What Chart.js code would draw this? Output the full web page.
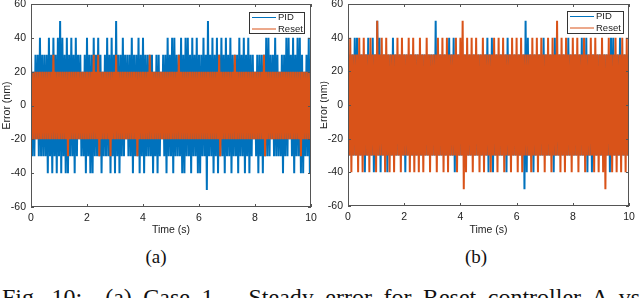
<!DOCTYPE html>
<html>
<head>
<meta charset="utf-8">
<script src="https://cdn.jsdelivr.net/npm/chart.js@4/dist/chart.umd.min.js"></script>
<style>
  body { margin: 0; background: #fff; width: 640px; height: 298px; overflow: hidden; position: relative; }
  canvas { position: absolute; top: 0; }
  #graficoA { left: 0; }
  #graficoB { left: 320px; }
  .sub { position: absolute; top: 246px; width: 60px; text-align: center; font: 19px "Liberation Serif", "Times New Roman", serif; color: #111; }
  .fig { position: absolute; left: 2px; top: 284px; white-space: nowrap; font: 24px "Liberation Serif", "Times New Roman", serif; color: #111; word-spacing: 5.5px; }
</style>
</head>
<body>
<canvas id="graficoA" width="320" height="240"></canvas>
<canvas id="graficoB" width="320" height="240"></canvas>
<div class="sub" style="left:126px">(a)</div>
<div class="sub" style="left:446px">(b)</div>
<div class="fig">Fig. 10:&nbsp; (a) Case 1 – Steady error for Reset controller A vs. PID</div>
<script>
// Error samples in nm, one every 0.04 s (0 .. 10 s)

// (a) PID
const pidA = [
  30,-30,20,-30,30,-20,30,-30,40,-30,30,-30,30,-30,30,-40,40,-30,30,-40,40,-30,30,-40,40,
  -30,50,-40,40,-30,30,-40,40,-40,30,-30,40,-30,30,-40,40,-30,30,-20,30,-30,20,-30,30,-40,
  40,-30,30,-40,30,-40,40,-30,30,-30,40,-30,30,-40,20,-30,30,-30,40,-30,30,-40,40,-30,30,
  -40,50,-30,30,-40,30,-30,40,-30,30,-20,30,-30,30,-30,40,-40,30,-30,30,-30,40,-40,30,-30,
  40,-40,30,-30,30,-30,30,-30,30,-40,20,-30,30,-40,30,-30,20,-20,30,-30,30,-40,40,-30,30,
  -30,40,-40,40,-30,30,-30,30,-30,40,-40,30,-40,40,-30,40,-30,30,-40,40,-30,30,-30,40,-40,
  30,-40,30,-30,40,-30,30,-50,50,-30,30,-30,40,-40,30,-30,40,-40,30,-30,40,-30,30,-40,40,
  -30,30,-30,40,-40,30,-30,30,-30,30,-40,40,-30,30,-30,40,-40,30,-30,40,-40,30,-30,30,-20,
  20,-30,30,-40,30,-30,30,-40,30,-30,40,-30,40,-30,30,-20,30,-30,40,-30,30,-30,20,-30,30,
  -40,30,-30,40,-30,40,-20,30,-30,40,-40,30,-30,40,-30,40,-40,30,-40,20,-30,30,-30,40,-40,
  30
];

// (a) Reset
const resetA = [
  20,-20,20,-20,20,-20,20,-20,20,-20,20,-20,20,-20,20,-20,20,-20,20,-20,30,-20,20,-20,20,
  -20,20,-20,20,-20,20,-20,20,-30,20,-20,20,-20,20,-20,20,-20,20,-20,20,-20,20,-20,20,-20,
  20,-20,20,-20,20,-20,30,-20,20,-20,30,-30,20,-20,20,-20,20,-20,20,-20,20,-30,20,-20,20,
  -20,30,-20,20,-20,20,-20,20,-20,20,-20,20,-20,20,-20,20,-20,20,-20,20,-30,20,-20,20,-20,
  20,-20,20,-20,20,-20,30,-20,20,-20,20,-20,20,-20,20,-20,20,-20,20,-20,20,-20,20,-20,20,
  -20,20,-20,20,-20,20,-20,30,-20,20,-20,20,-20,20,-20,20,-20,20,-20,20,-20,20,-20,20,-20,
  20,-20,20,-20,20,-20,20,-20,20,-20,20,-20,20,-20,20,-20,20,-20,30,-30,20,-20,20,-20,20,
  -20,20,-20,20,-20,20,-20,30,-20,20,-20,20,-20,20,-20,20,-20,20,-20,20,-20,20,-20,20,-20,
  20,-20,20,-20,20,-20,20,-20,30,-30,20,-20,20,-20,20,-20,20,-20,20,-20,20,-20,20,-20,20,
  -20,20,-20,20,-20,20,-20,20,-20,20,-20,20,-20,20,-20,20,-30,20,-20,20,-20,20,-20,20,-20,
  20
];

// (b) PID
const pidB = [
  30,-30,30,-30,30,-30,40,-30,40,-30,30,-30,30,-30,30,-40,30,-30,40,-30,30,-30,40,-40,30,
  -30,50,-30,40,-40,30,-30,30,-30,30,-40,30,-30,30,-30,40,-30,30,-30,30,-30,30,-30,30,-30,
  30,-40,30,-30,30,-30,30,-30,30,-30,30,-30,30,-30,30,-30,30,-30,30,-30,30,-30,30,-30,30,
  -30,30,-30,50,-30,30,-30,30,-30,30,-30,30,-30,30,-30,40,-30,30,-30,40,-40,30,-30,30,-30,
  30,-30,30,-30,30,-30,30,-30,30,-30,30,-30,30,-30,30,-30,30,-30,30,-30,30,-30,30,-30,40,
  -40,30,-30,40,-40,30,-30,30,-30,30,-30,30,-30,30,-30,30,-40,40,-30,30,-30,30,-30,30,-30,
  30,-30,30,-30,30,-30,30,-50,50,-40,40,-30,30,-30,30,-40,30,-30,30,-30,30,-30,30,-30,40,
  -30,30,-30,30,-30,30,-30,30,-40,40,-30,30,-30,30,-30,30,-30,30,-30,30,-30,40,-30,30,-30,
  30,-30,30,-30,30,-30,30,-30,40,-30,30,-30,40,-40,30,-30,30,-40,30,-30,30,-30,30,-30,30,
  -30,30,-30,30,-30,30,-30,30,-40,40,-30,40,-30,30,-30,30,-30,40,-30,30,-30,30,-30,30,-30,
  30
];

// (b) Reset
const resetB = [
  30,-30,40,-40,30,-30,30,-30,30,-40,40,-30,30,-40,40,-30,30,-30,30,-40,40,-30,30,-30,30,
  -40,50,-30,30,-30,40,-30,30,-40,40,-30,30,-40,30,-30,30,-40,30,-30,40,-30,30,-40,40,-30,
  30,-30,30,-30,40,-40,30,-30,40,-40,30,-30,30,-40,40,-30,30,-40,30,-30,40,-30,30,-40,30,
  -30,30,-30,30,-40,40,-30,30,-30,40,-40,30,-30,40,-40,30,-30,30,-30,30,-30,40,-40,30,-30,
  40,-30,50,-50,30,-40,40,-30,30,-30,40,-40,30,-30,40,-30,30,-40,30,-30,40,-40,30,-30,30,
  -30,30,-40,30,-30,40,-30,30,-40,40,-30,30,-30,40,-40,30,-30,30,-30,30,-40,40,-30,30,-30,
  40,-40,30,-30,40,-40,30,-30,30,-30,30,-30,30,-40,40,-30,30,-30,40,-40,30,-30,40,-30,30,
  -40,30,-30,40,-30,30,-40,40,-30,30,-30,50,-30,30,-40,40,-30,30,-40,40,-30,30,-30,30,-40,
  40,-30,30,-30,40,-40,30,-30,30,-30,40,-40,30,-30,30,-30,40,-30,30,-40,40,-30,30,-40,30,
  -30,40,-40,30,-50,30,-30,40,-30,30,-40,30,-30,40,-40,30,-30,30,-40,40,-30,30,-40,40,-30,
  30
];

const dt = 0.04;
const time = pidA.map((v, i) => +(i * dt).toFixed(2));

const xTicks = [0, 2, 4, 6, 8, 10];
const yTicks = [-60, -40, -20, 0, 20, 40, 60];

const azul = '#0072BD';
const laranja = '#D95319';
const fonte = '"Liberation Sans", Arial, sans-serif';

// Moldura estilo MATLAB: caixa, ticks para dentro e legenda interna
const moldura = {
  id: 'moldura',
  afterDatasetsDraw(chart, args, opts) {
    const { ctx, chartArea: a, scales } = chart;
    ctx.save();
    ctx.strokeStyle = '#555';
    ctx.lineWidth = 1;
    ctx.strokeRect(a.left + 0.5, a.top + 0.5, a.right - a.left - 1, a.bottom - a.top - 1);

    ctx.beginPath();
    xTicks.forEach(v => {
      const x = Math.round(scales.x.getPixelForValue(v)) + 0.5;
      ctx.moveTo(x, a.bottom); ctx.lineTo(x, a.bottom - 3);
      ctx.moveTo(x, a.top); ctx.lineTo(x, a.top + 3);
    });
    yTicks.forEach(v => {
      const y = Math.round(scales.y.getPixelForValue(v)) + 0.5;
      ctx.moveTo(a.left, y); ctx.lineTo(a.left + 3, y);
      ctx.moveTo(a.right, y); ctx.lineTo(a.right - 3, y);
    });
    ctx.stroke();

    // legenda
    const b = opts.box;
    ctx.fillStyle = '#fff';
    ctx.fillRect(b.x, b.y, b.w, b.h);
    ctx.strokeStyle = '#333';
    ctx.strokeRect(b.x + 0.5, b.y + 0.5, b.w, b.h);
    ctx.font = '9.5px ' + fonte;
    ctx.textBaseline = 'middle';
    ctx.lineWidth = 1;
    chart.data.datasets.forEach((ds, i) => {
      const y = b.y + 5.5 + i * 11.5;
      ctx.strokeStyle = ds.borderColor;
      ctx.beginPath();
      ctx.moveTo(b.x + 3, y);
      ctx.lineTo(b.x + 27, y);
      ctx.stroke();
      ctx.fillStyle = '#222';
      ctx.fillText(ds.label, b.x + 29, y);
    });
    ctx.restore();
  }
};

function desenhaGrafico(id, pid, reset, cfg) {
  new Chart(document.getElementById(id), {
    type: 'line',
    data: {
      labels: time,
      datasets: [
        { label: 'PID', data: pid, borderColor: azul, borderWidth: 2, pointRadius: 0, order: 2 },
        { label: 'Reset', data: reset, borderColor: laranja, borderWidth: 2, pointRadius: 0, order: 1 }
      ]
    },
    options: {
      responsive: false,
      animation: false,
      layout: { padding: cfg.padding },
      plugins: {
        legend: { display: false },
        tooltip: { enabled: false },
        moldura: { box: cfg.box }
      },
      scales: {
        x: {
          type: 'linear', min: 0, max: 10,
          grid: { display: false, drawTicks: false },
          border: { display: false },
          ticks: { stepSize: 2, autoSkip: false, maxRotation: 0, padding: 5, color: '#222', font: { family: fonte, size: 10.5 } },
          title: { display: true, text: 'Time (s)', color: '#222', font: { family: fonte, size: 10.5 }, padding: { top: 0, bottom: 4 } },
          afterFit(s) { s.height = cfg.xHeight; s.paddingLeft = 0; s.paddingRight = 0; }
        },
        y: {
          min: -60, max: 60,
          grid: { display: false, drawTicks: false },
          border: { display: false },
          ticks: { stepSize: 20, autoSkip: false, padding: 5, color: '#222', font: { family: fonte, size: 10.5 } },
          title: { display: true, text: 'Error (nm)', color: '#222', font: { family: fonte, size: 10.5 }, padding: { top: cfg.yTitlePad, bottom: 0 } },
          afterFit(s) { s.width = cfg.yWidth; s.paddingTop = 0; s.paddingBottom = 0; }
        }
      }
    },
    plugins: [moldura]
  });
}

desenhaGrafico('graficoA', pidA, resetA, {
  padding: { left: 0, top: 4, right: 9, bottom: 0 },
  yWidth: 31, xHeight: 33, yTitlePad: 0.5,
  box: { x: 249, y: 12, w: 55, h: 21 }
});

desenhaGrafico('graficoB', pidB, resetB, {
  padding: { left: 0, top: 4, right: 11, bottom: 0 },
  yWidth: 28, xHeight: 34, yTitlePad: -2.5,
  box: { x: 247, y: 11, w: 56, h: 22 }
});
</script>
</body>
</html>
